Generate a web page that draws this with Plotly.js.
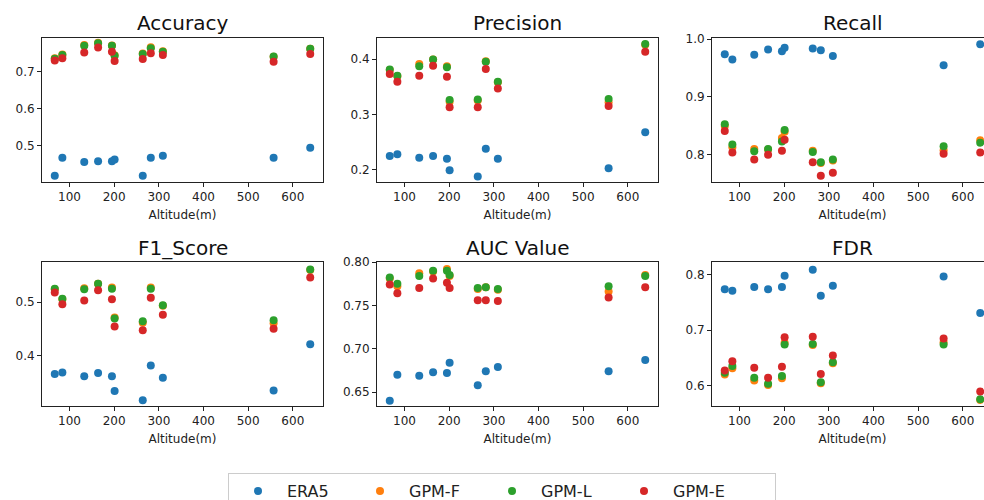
<!DOCTYPE html>
<html>
<head>
<meta charset="utf-8">
<script src="https://cdn.plot.ly/plotly-3.0.1.min.js"></script>
<style>
  html, body { margin: 0; padding: 0; background: #fff; overflow: hidden; }
  #chart { width: 1000px; height: 512px; }
</style>
</head>
<body>
<div id="chart"></div>
<script>
// Station altitudes (m)
const altitude = [67, 84, 133, 164, 195, 201, 264, 282, 309, 557, 639];

const seriesNames = ["ERA5", "GPM-F", "GPM-L", "GPM-E"];
const seriesColors = ["#1f77b4", "#ff7f0e", "#2ca02c", "#d62728"];
// legend column widths (px) after the symbol area
const legendWidths = [59, 69, 69, 97];

// Accuracy
const accERA5 = [0.418, 0.467, 0.455, 0.457, 0.457, 0.462, 0.418, 0.467, 0.472, 0.467, 0.494];
const accGPMF = [0.736, 0.746, 0.772, 0.778, 0.771, 0.744, 0.749, 0.766, 0.755, 0.740, 0.762];
const accGPML = [0.735, 0.745, 0.770, 0.777, 0.770, 0.743, 0.748, 0.763, 0.754, 0.741, 0.762];
const accGPME = [0.730, 0.736, 0.752, 0.765, 0.754, 0.729, 0.734, 0.750, 0.745, 0.727, 0.748];

// Precision
const preERA5 = [0.225, 0.228, 0.222, 0.225, 0.220, 0.199, 0.188, 0.238, 0.220, 0.203, 0.268];
const preGPMF = [0.380, 0.369, 0.391, 0.399, 0.387, 0.323, 0.325, 0.396, 0.358, 0.322, 0.426];
const preGPML = [0.381, 0.370, 0.387, 0.399, 0.385, 0.326, 0.327, 0.395, 0.359, 0.328, 0.427];
const preGPME = [0.373, 0.359, 0.370, 0.388, 0.368, 0.313, 0.313, 0.382, 0.347, 0.315, 0.413];

// Recall
const recERA5 = [0.974, 0.965, 0.973, 0.982, 0.979, 0.985, 0.984, 0.981, 0.971, 0.955, 0.991];
const recGPMF = [0.850, 0.813, 0.810, 0.809, 0.829, 0.840, 0.807, 0.786, 0.790, 0.808, 0.825];
const recGPML = [0.853, 0.818, 0.806, 0.810, 0.823, 0.843, 0.805, 0.787, 0.792, 0.815, 0.821];
const recGPME = [0.841, 0.804, 0.792, 0.800, 0.807, 0.826, 0.787, 0.764, 0.769, 0.802, 0.804];

// F1 score
const f1ERA5 = [0.365, 0.368, 0.361, 0.367, 0.361, 0.333, 0.316, 0.381, 0.358, 0.334, 0.421];
const f1GPMF = [0.524, 0.505, 0.526, 0.534, 0.527, 0.471, 0.461, 0.527, 0.493, 0.460, 0.560];
const f1GPML = [0.525, 0.506, 0.524, 0.534, 0.525, 0.469, 0.464, 0.525, 0.494, 0.466, 0.561];
const f1GPME = [0.518, 0.496, 0.503, 0.522, 0.505, 0.454, 0.447, 0.508, 0.476, 0.450, 0.546];

// AUC
const aucERA5 = [0.640, 0.670, 0.669, 0.673, 0.672, 0.684, 0.658, 0.674, 0.679, 0.674, 0.687];
const aucGPMF = [0.781, 0.772, 0.787, 0.789, 0.792, 0.784, 0.769, 0.771, 0.768, 0.766, 0.785];
const aucGPML = [0.782, 0.775, 0.784, 0.790, 0.790, 0.785, 0.770, 0.771, 0.769, 0.772, 0.784];
const aucGPME = [0.774, 0.764, 0.770, 0.781, 0.776, 0.770, 0.756, 0.756, 0.755, 0.759, 0.771];

// False discovery rate
const fdrERA5 = [0.774, 0.771, 0.778, 0.774, 0.778, 0.798, 0.809, 0.762, 0.780, 0.797, 0.731];
const fdrGPMF = [0.620, 0.631, 0.609, 0.601, 0.613, 0.677, 0.673, 0.604, 0.640, 0.678, 0.574];
const fdrGPML = [0.623, 0.635, 0.614, 0.603, 0.617, 0.674, 0.675, 0.606, 0.642, 0.674, 0.575];
const fdrGPME = [0.627, 0.644, 0.632, 0.614, 0.634, 0.687, 0.688, 0.621, 0.654, 0.685, 0.589];

const panelTitles = ["Accuracy", "Precision", "Recall", "F1_Score", "AUC Value", "FDR"];
const panelData = [
  [accERA5, accGPMF, accGPML, accGPME],
  [preERA5, preGPMF, preGPML, preGPME],
  [recERA5, recGPMF, recGPML, recGPME],
  [f1ERA5, f1GPMF, f1GPML, f1GPME],
  [aucERA5, aucGPMF, aucGPML, aucGPME],
  [fdrERA5, fdrGPMF, fdrGPML, fdrGPME]
];
const yRanges = [[0.401, 0.791], [0.178, 0.438], [0.753, 1.002], [0.305, 0.575], [0.634, 0.800], [0.563, 0.823]];
const yDticks = [0.1, 0.1, 0.1, 0.1, 0.05, 0.1];
const yFormats = [".1f", ".1f", ".1f", ".1f", ".2f", ".1f"];
const xTickVals = [100, 200, 300, 400, 500, 600];

// figure geometry in pixels, measured from the top-left corner;
// the figure is a little larger than the window so the right column and legend run off the edge
const W = 1000, H = 512;
const colSpans = [[42, 323], [377, 658], [712, 993]];
const rowSpans = [[38, 182], [262, 406]];
const titleY = [23, 248];

const FONT = "DejaVu Sans, sans-serif";
const traces = [];
const layout = {
  width: W, height: H,
  margin: {l: 0, r: 0, t: 0, b: 0},
  paper_bgcolor: "#ffffff",
  plot_bgcolor: "#ffffff",
  font: {family: FONT, size: 12, color: "#222"},
  showlegend: true,
  legend: {
    orientation: "h",
    x: 502 / W, xanchor: "center",
    y: 1 - 473 / H, yanchor: "top",
    bordercolor: "#cccccc", borderwidth: 1, bgcolor: "#ffffff",
    font: {family: FONT, size: 16, color: "#222"},
    itemwidth: 48,
    entrywidthmode: "pixels",
    traceorder: "normal"
  },
  annotations: []
};

panelData.forEach((series, p) => {
  const row = Math.floor(p / 3), col = p % 3;
  const idx = p === 0 ? "" : String(p + 1);
  const xa = "xaxis" + idx, ya = "yaxis" + idx;
  const [x0, x1] = colSpans[col];
  const [y0, y1] = rowSpans[row];
  layout[xa] = {
    domain: [x0 / W, x1 / W],
    anchor: "y" + idx,
    range: [38.4, 667.6],
    tickvals: xTickVals,
    ticks: "outside", ticklen: 4, tickcolor: "#222",
    showline: true, mirror: true, linecolor: "#222", linewidth: 1,
    showgrid: false, zeroline: false,
    tickfont: {family: FONT, size: 12, color: "#222"},
    title: {text: "Altitude(m)", font: {family: FONT, size: 12, color: "#222"}, standoff: 7}
  };
  layout[ya] = {
    domain: [1 - y1 / H, 1 - y0 / H],
    anchor: "x" + idx,
    range: yRanges[p],
    dtick: yDticks[p], tick0: 0,
    tickformat: yFormats[p],
    ticks: "outside", ticklen: 4, tickcolor: "#222",
    showline: true, mirror: true, linecolor: "#222", linewidth: 1,
    showgrid: false, zeroline: false,
    tickfont: {family: FONT, size: 12, color: "#222"}
  };
  layout.annotations.push({
    text: panelTitles[p],
    xref: "paper", yref: "paper",
    x: (x0 + x1) / 2 / W, y: 1 - titleY[row] / H,
    xanchor: "center", yanchor: "middle",
    showarrow: false,
    font: {family: FONT, size: 20, color: "#111"}
  });
  series.forEach((vals, s) => {
    traces.push({
      type: "scatter", mode: "markers",
      x: altitude, y: vals,
      xaxis: "x" + idx, yaxis: "y" + idx,
      name: seriesNames[s],
      legendgroup: seriesNames[s],
      legendwidth: legendWidths[s],
      showlegend: p === 0,
      marker: {color: seriesColors[s], size: 8, line: {width: 0}},
      cliponaxis: false
    });
  });
});

Plotly.newPlot("chart", traces, layout, {displayModeBar: false, staticPlot: true});
</script>
</body>
</html>
